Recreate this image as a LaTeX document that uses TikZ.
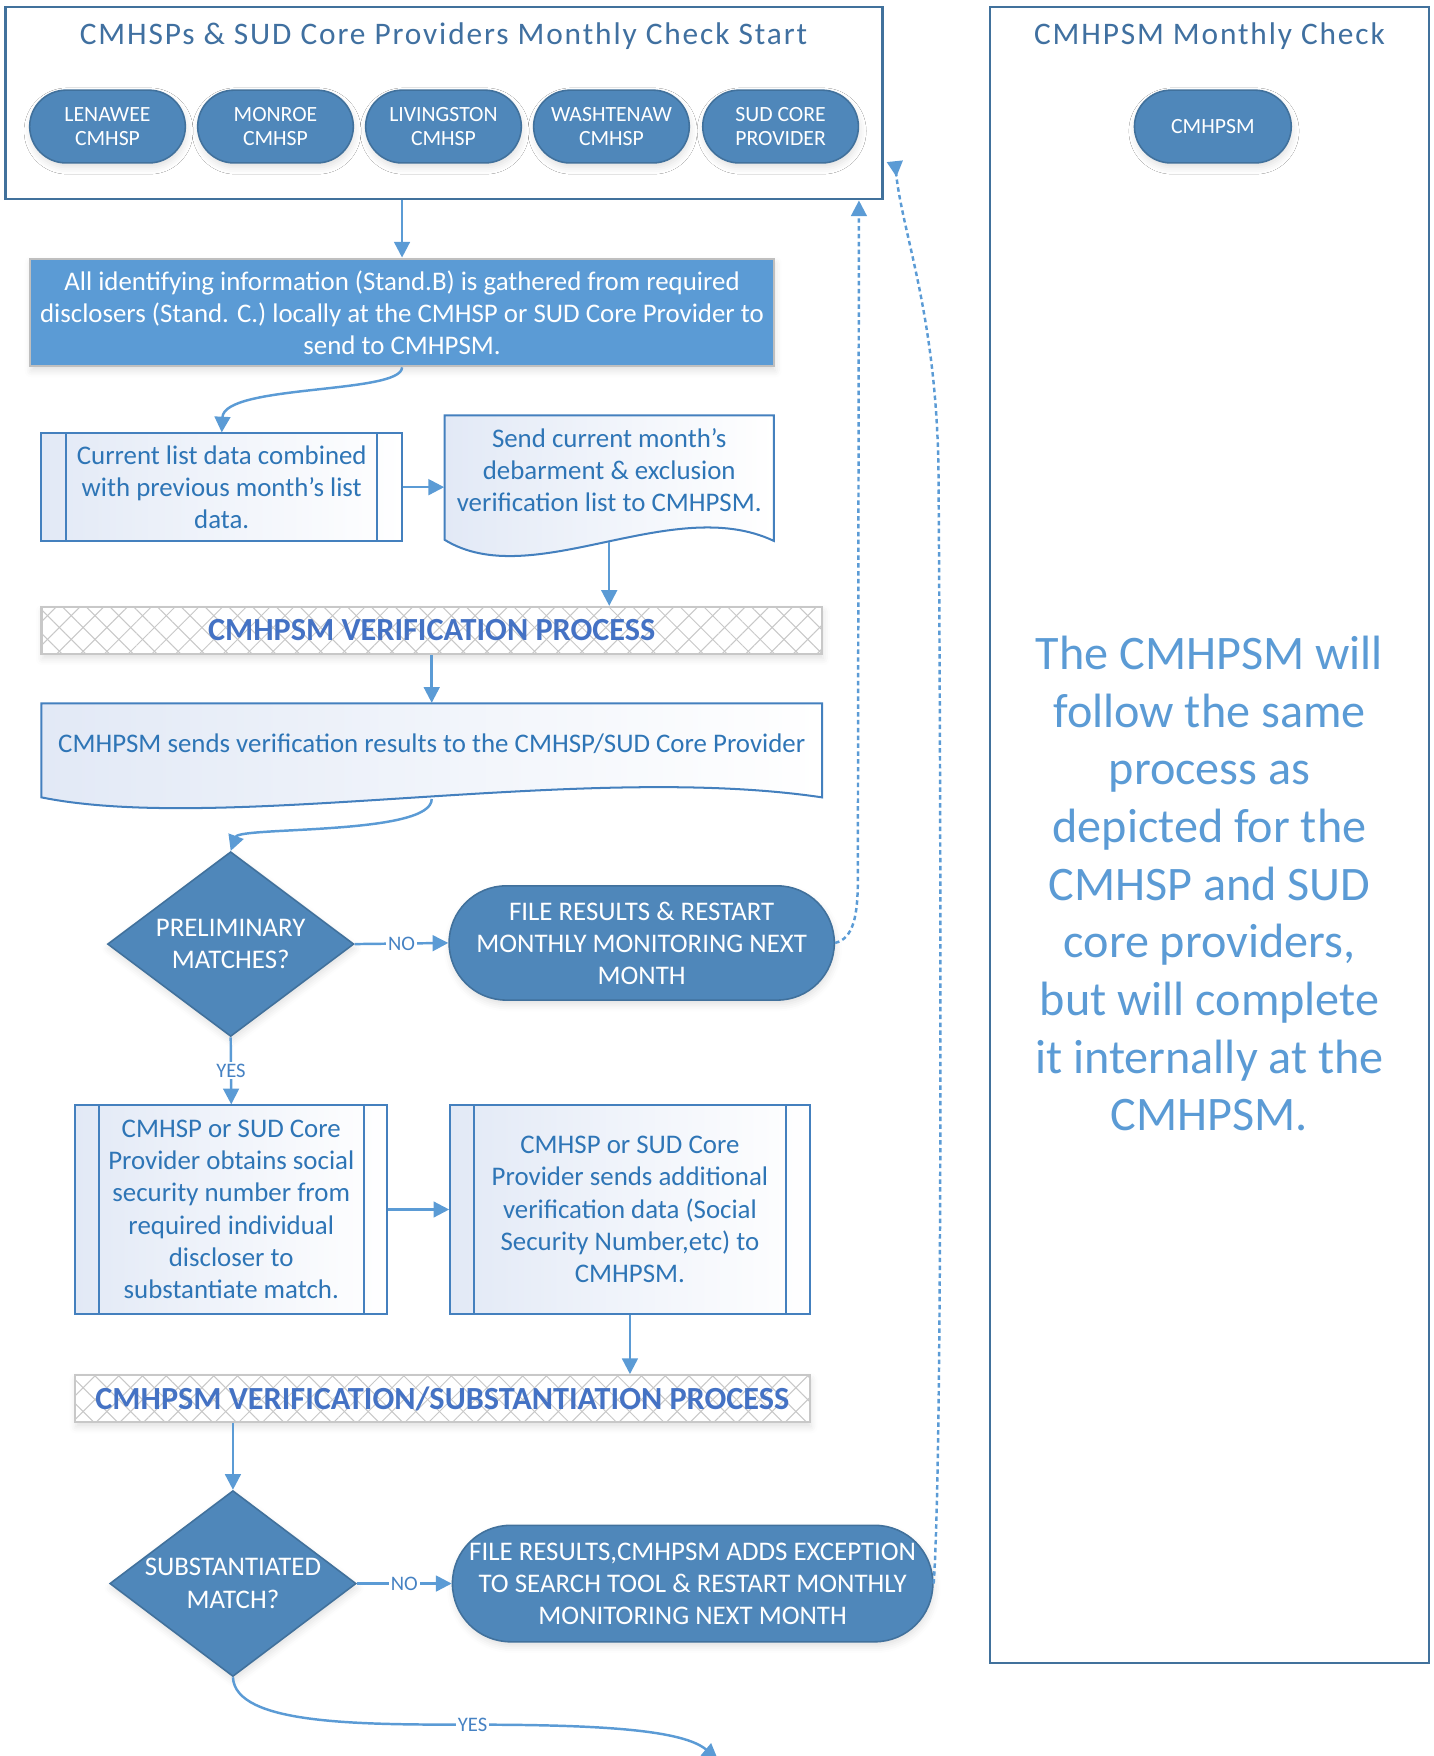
\documentclass[tikz,border=0pt]{standalone}
\usepackage{fontspec}
\setmainfont{Carlito}
\newfontfamily\ttlfont{Carlito}[LetterSpace=6]
\usetikzlibrary{shapes.geometric,shapes.misc,arrows.meta,calc,patterns.meta,shadows.blur}
\definecolor{frameblue}{RGB}{65,113,156}
\definecolor{titleblue}{RGB}{64,112,160}
\definecolor{pillfill}{RGB}{79,135,186}
\definecolor{pillborder}{RGB}{65,113,156}
\definecolor{boxfill}{RGB}{91,155,213}
\definecolor{boxborder}{RGB}{191,191,191}
\definecolor{procborder}{RGB}{68,128,190}
\definecolor{procfill}{RGB}{226,233,246}
\definecolor{proctext}{RGB}{46,117,182}
\definecolor{bigtext}{RGB}{91,155,213}
\definecolor{bandtext}{RGB}{68,114,196}
\definecolor{bandborder}{RGB}{200,200,200}
\definecolor{hatch}{RGB}{200,200,200}
\definecolor{arrowblue}{RGB}{91,155,213}
\definecolor{lblblue}{RGB}{70,130,195}
\begin{document}
\begin{tikzpicture}[x=0.5pt,y=-0.5pt,
  softshadow/.style={blur shadow={shadow xshift=0.5pt, shadow yshift=-2pt, shadow blur radius=3pt, shadow opacity=12}},
  arr/.style={draw=arrowblue, line width=1.1pt, -{Triangle[length=7pt,width=7pt]}},
  dotarr/.style={draw=arrowblue, line width=1.1pt, dash pattern=on 2pt off 1.5pt},
  lbl/.style={fill=white, text=lblblue, font=\fontsize{9.2}{10}\selectfont, inner sep=0.8pt},
  frame/.style={draw=frameblue, line width=1pt, fill=white, inner sep=0pt},
  ttl/.style={text=titleblue, font=\ttlfont\fontsize{14}{16}\selectfont},
  pill/.style={rounded rectangle, draw=pillborder, line width=0.7pt, fill=pillfill, text=white,
    font=\fontsize{9.7}{11}\selectfont, align=center, inner sep=0pt, softshadow},
  term/.style={rounded rectangle, draw=pillborder, line width=0.7pt, fill=pillfill, text=white,
    font=\fontsize{12}{14.3}\selectfont, align=center, inner sep=0pt, softshadow},
  decision/.style={diamond, aspect=1.33, draw=pillborder, line width=0.7pt, fill=pillfill, text=white,
    font=\fontsize{12}{14.5}\selectfont, align=center, inner sep=0pt, softshadow},
  bluebox/.style={rectangle, draw=boxborder, line width=1pt, fill=boxfill, text=white,
    font=\fontsize{12}{14.3}\selectfont, align=center, inner sep=0pt, softshadow},
  procbox/.style={rectangle, draw=procborder, line width=0.9pt, left color=procfill, right color=white,
    text=proctext, font=\fontsize{12}{14.4}\selectfont, align=center, inner sep=0pt,
    path picture={\draw[procborder, line width=0.9pt]
      ([xshift=#1]path picture bounding box.north west) -- ([xshift=#1]path picture bounding box.south west)
      ([xshift=-#1]path picture bounding box.north east) -- ([xshift=-#1]path picture bounding box.south east);}},
  doctext/.style={rectangle, draw=none, text=proctext, font=\fontsize{12}{14.3}\selectfont, align=center, inner sep=0pt},
  docshape/.style={draw=procborder, line width=0.9pt, left color=procfill, right color=white},
  band/.style={rectangle, draw=bandborder, line width=1pt, fill=white, inner sep=0pt,
    postaction={pattern={Lines[angle=45,distance=7.5pt,line width=0.45pt]}, pattern color=hatch},
    postaction={pattern={Lines[angle=-45,distance=7.5pt,line width=0.45pt]}, pattern color=hatch},
    text=bandtext, font=\bfseries\fontsize{14.4}{16}\selectfont, softshadow},
  bigtxt/.style={text=bigtext, font=\fontsize{21.5}{25.75}\selectfont, align=center}
]
\useasboundingbox (0,0) rectangle (1280,1568);

% ---------- frames ----------
\node[frame, minimum width=391.5pt, minimum height=86pt] (F1) at (396.5,92) {};
\node[ttl] (F1title) at (396,32) {CMHSPs \& SUD Core Providers Monthly Check Start};
\node[frame, minimum width=196pt, minimum height=739.5pt] (F2) at (1080,745.5) {};
\node[ttl] (F2title) at (1080,32) {CMHPSM Monthly Check};

% ---------- pills ----------
\node[pill, minimum width=69.5pt, minimum height=32.5pt] (len) at (96,113) {LENAWEE\\CMHSP};
\node[pill, minimum width=69.5pt, minimum height=32.5pt] (mon) at (246,113) {MONROE\\CMHSP};
\node[pill, minimum width=69.5pt, minimum height=32.5pt] (liv) at (396,113) {LIVINGSTON\\CMHSP};
\node[pill, minimum width=69.5pt, minimum height=32.5pt] (was) at (546,113) {WASHTENAW\\CMHSP};
\node[pill, minimum width=69.5pt, minimum height=32.5pt] (sud) at (697,113) {SUD CORE\\PROVIDER};
\node[pill, minimum width=70pt, minimum height=32.5pt] (cmh) at (1083,113) {CMHPSM};

\node[bigtxt] (big) at (1080,789) {The CMHPSM will\\follow the same\\process as\\depicted for the\\CMHSP and SUD\\core providers,\\but will complete\\it internally at the\\CMHPSM.};

% ---------- document shapes (outlines) ----------
\path[docshape] (397,371) -- (691,371) -- (691,483)
   .. controls (600,440) and (475,530) .. (397,482) -- cycle;
\path[docshape] (37,628) -- (734,628) -- (734,712)
   .. controls (520,680) and (200,745) .. (37,712) -- cycle;

% ---------- flow ----------
\node[bluebox, minimum width=332pt, minimum height=48pt] (B1) at (359,279)
  {All identifying information (Stand.B) is gathered from required\\disclosers (Stand. C.) locally at the CMHSP or SUD Core Provider to\\send to CMHPSM.};

\node[procbox=11pt, minimum width=161pt, minimum height=48pt] (P1) at (198,435)
  {Current list data combined\\with previous month’s list\\data.};

\node[doctext, minimum width=147pt, minimum height=49pt] (D1) at (544,420)
  {Send current month’s\\debarment \& exclusion\\verification list to CMHPSM.};

\node[band, minimum width=348.5pt, minimum height=21pt] (band1) at (385.5,563) {CMHPSM VERIFICATION PROCESS};

\node[doctext, minimum width=348.5pt, minimum height=36pt] (D2) at (385.5,664)
  {CMHPSM sends verification results to the CMHSP/SUD Core Provider};

\node[decision, minimum width=110pt, minimum height=82.5pt] (Q1) at (206,843) {PRELIMINARY\\MATCHES?};
\node[term, minimum width=172pt, minimum height=51pt] (T1) at (573,842)
  {FILE RESULTS \& RESTART\\MONTHLY MONITORING NEXT\\MONTH};

\node[procbox=10.5pt, minimum width=139.5pt, minimum height=93pt] (P2) at (206.5,1080)
  {CMHSP or SUD Core\\Provider obtains social\\security number from\\required individual\\discloser to\\substantiate match.};
\node[procbox=10.5pt, minimum width=160.5pt, minimum height=93pt] (P3) at (562.5,1080)
  {CMHSP or SUD Core\\Provider sends additional\\verification data (Social\\Security Number,etc) to\\CMHPSM.};

\node[band, minimum width=328pt, minimum height=21pt] (band2) at (395,1249) {CMHPSM VERIFICATION/SUBSTANTIATION PROCESS};

\node[decision, minimum width=110pt, minimum height=83pt] (Q2) at (208,1414) {SUBSTANTIATED\\MATCH?};
\node[term, minimum width=214.5pt, minimum height=52pt] (T2) at (618.5,1414)
  {FILE RESULTS,CMHPSM ADDS EXCEPTION\\TO SEARCH TOOL \& RESTART MONTHLY\\MONITORING NEXT MONTH};

\coordinate (endpt) at (641,1571);

% ---------- connectors ----------
\draw[arr] (F1.south -| B1.north) -- (B1.north);
\draw[arr] (B1.south) .. controls (359,352) and (200,343) .. (P1.north);
\draw[arr] (P1.east) -- (P1.east -| D1.west);
\draw[arr] ($(D1.south)+(0,15)$) -- (D1.south |- band1.north);
\draw[arr] (band1.south) -- (D2.north);
\draw[arr] ($(D2.south)+(0,13)$) .. controls (386,746) and (214,738) .. (Q1.north);
\draw[arr] (Q1.east) -- node[lbl]{NO} (T1.west);
\draw[dotarr, -{Triangle[length=7pt,width=7pt]}] (T1.east) .. controls (762,838) and (766,818) .. (766,785) -- ($(F1.south east)+(-22,0)$);
\draw[arr] (Q1.south) -- node[lbl]{YES} (P2.north);
\draw[arr] (P2.east) -- (P3.west);
\draw[arr] (P3.south) -- (P3.south |- band2.north);
\draw[arr] (band2.south -| Q2.north) -- (Q2.north);
\draw[arr] (Q2.east) -- node[lbl]{NO} (T2.west);
\draw[dotarr, -{Triangle[length=7pt,width=7pt,reversed]}] (T2.east) .. controls (842,1300) and (840,700) .. (838,420)
   .. controls (836,280) and (806,210) .. ($(F1.east)+(10,52)$);
\draw[arr] (Q2.south) .. controls (210,1540) and (320,1540) .. node[lbl, pos=1]{YES} (422,1540)
   .. controls (540,1540) and (610,1545) .. (endpt);
\end{tikzpicture}
\end{document}
